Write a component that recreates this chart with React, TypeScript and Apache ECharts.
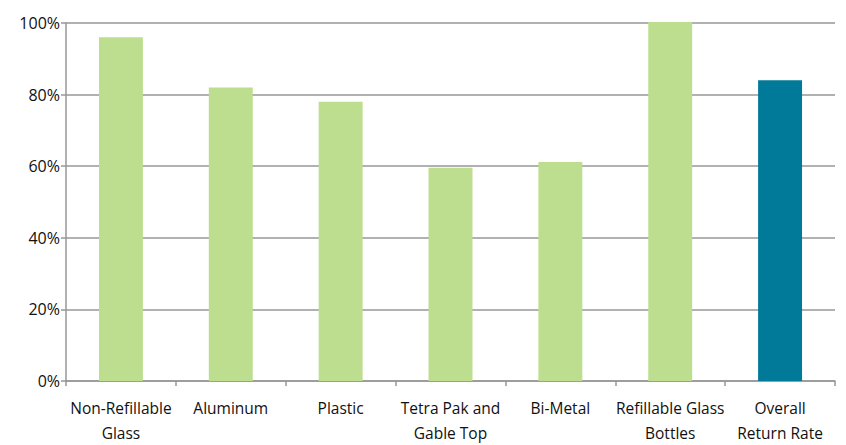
import React, { useEffect, useRef } from "react";
import * as echarts from "echarts";

const categories = [
  "Non-Refillable\nGlass",
  "Aluminum",
  "Plastic",
  "Tetra Pak and\nGable Top",
  "Bi-Metal",
  "Refillable Glass\nBottles",
  "Overall\nReturn Rate",
];
const returnRates = [96, 82, 78, 59.6, 61.2, 100.3, 84];
const barColors = ["#BDDE8F", "#BDDE8F", "#BDDE8F", "#BDDE8F", "#BDDE8F", "#BDDE8F", "#007A98"];
const yTicks = [0, 20, 40, 60, 80, 100];

export default function App() {
  const ref = useRef<HTMLDivElement>(null);
  useEffect(() => {
    document.body.style.margin = "0";
    if (!ref.current) return;
    const chart = echarts.init(ref.current, null, { renderer: "svg" });
    const font = "'Open Sans', 'Liberation Sans', sans-serif";
    chart.setOption({
      animation: false,
      grid: { left: 66, right: 11, top: 23, bottom: 59, containLabel: false },
      xAxis: {
        type: "category",
        data: categories,
        boundaryGap: true,
        axisLine: { show: true, lineStyle: { color: "#979797", width: 1.5 } },
        axisTick: { show: true, length: 5, alignWithLabel: false, lineStyle: { color: "#979797", width: 1.5 } },
        axisLabel: {
          interval: 0,
          margin: 14,
          color: "#111",
          fontSize: 15.5,
          fontFamily: font,
          lineHeight: 25,
        },
      },
      yAxis: {
        type: "value",
        min: yTicks[0],
        max: yTicks[yTicks.length - 1],
        interval: 20,
        axisLine: { show: true, lineStyle: { color: "#979797", width: 1.5 } },
        axisTick: { show: true, length: 5, lineStyle: { color: "#979797", width: 1.5 } },
        splitLine: { show: true, lineStyle: { color: "#979797", width: 1.5 } },
        axisLabel: {
          formatter: "{value}%",
          margin: 6,
          color: "#111",
          fontSize: 16,
          fontFamily: font,
        },
      },
      series: [
        {
          type: "bar",
          barCategoryGap: "60%",
          data: returnRates.map((v, i) => ({ value: v, itemStyle: { color: barColors[i] } })),
          clip: false,
        },
      ],
    });
    return () => chart.dispose();
  }, []);
  return <div ref={ref} style={{ width: 846, height: 445 }} />;
}
